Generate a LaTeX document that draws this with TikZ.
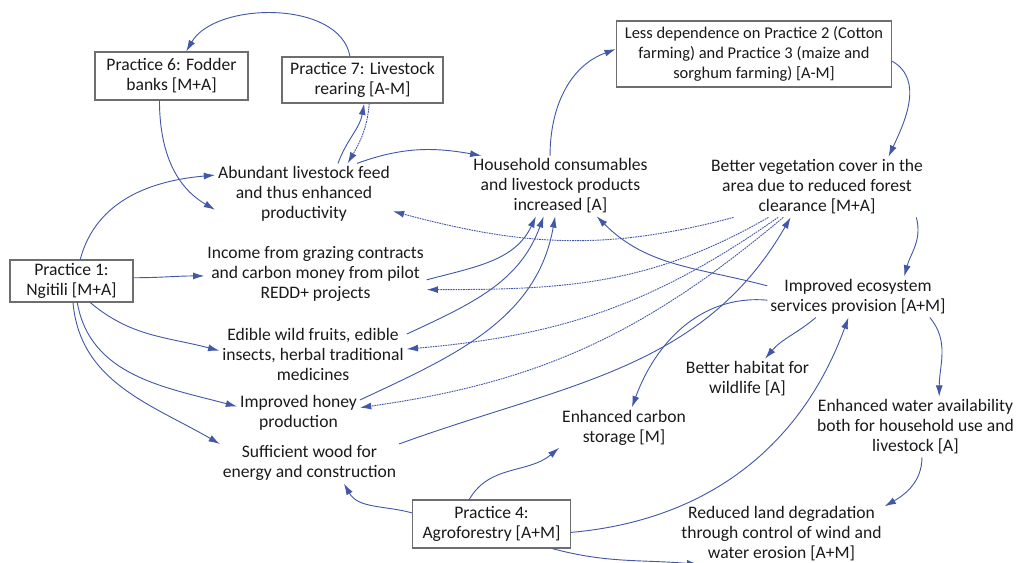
\documentclass[tikz,border=0pt]{standalone}
\usepackage{fontspec}
\setmainfont{Carlito}
\usetikzlibrary{arrows.meta}
\definecolor{linkblue}{HTML}{4257A8}
\definecolor{boxgray}{HTML}{6E6E6E}
\definecolor{textdark}{HTML}{1A1A1A}
\tikzset{
  effect/.style={align=center,inner sep=2pt,text=textdark,font=\fontsize{12.5}{14.2}\selectfont},
  practice/.style={effect,draw=boxgray,line width=0.9pt,fill=white},
  link/.style={-{Latex[length=8pt,width=5pt]},linkblue,line width=0.65pt},
  dotlink/.style={link,dash pattern=on 1.2pt off 0.6pt}
}

\begin{document}
\begin{tikzpicture}[x=0.025cm,y=0.025cm]
  \useasboundingbox (0,0) rectangle (1017,-563);
  % practices
  \node[practice,minimum width=3.83cm,minimum height=1.2cm] (p6) at (171.5,-76) {Practice 6: Fodder\\banks [M+A]};
  \node[practice,minimum width=4.03cm,minimum height=1.15cm] (p7) at (362.5,-80) {Practice 7: Livestock\\rearing [A-M]};
  \node[practice,minimum width=6.88cm,minimum height=1.65cm,font=\fontsize{11.7}{14.2}\selectfont] (lessdep) at (754,-54) {Less dependence on Practice 2 (Cotton\\farming) and Practice 3 (maize and\\sorghum farming) [A-M]};
  \node[practice,minimum width=3.08cm,minimum height=1.05cm] (p1) at (71.5,-281) {Practice 1:\\Ngitili [M+A]};
  \node[practice,minimum width=3.95cm,minimum height=1.2cm] (p4) at (491.5,-524) {Practice 4:\\Agroforestry [A+M]};
  % effects
  \node[effect] (feed) at (304,-194) {Abundant livestock feed\\and thus enhanced\\productivity};
  \node[effect] (house) at (560.5,-186) {Household consumables\\and livestock products\\increased [A]};
  \node[effect] (veg) at (817,-187) {Better vegetation cover in the\\area due to reduced forest\\clearance [M+A]};
  \node[effect] (income) at (315.5,-274) {Income from grazing contracts\\and carbon money from pilot\\REDD+ projects};
  \node[effect] (ecosys) at (858,-297) {Improved ecosystem\\services provision [A+M]};
  \node[effect] (edible) at (313,-354) {Edible wild fruits, edible\\insects, herbal traditional\\medicines};
  \node[effect] (habitat) at (747.5,-379) {Better habitat for\\wildlife [A]};
  \node[effect] (honey) at (298.5,-413) {Improved honey\\production};
  \node[effect] (water) at (915.5,-427) {Enhanced water availability\\both for household use and\\livestock [A]};
  \node[effect] (carbon) at (624,-428) {Enhanced carbon\\storage [M]};
  \node[effect] (wood) at (309.5,-463) {Sufficient wood for\\energy and construction};
  \node[effect] (land) at (781.5,-534) {Reduced land degradation\\through control of wind and\\water erosion [A+M]};
  % links
  \draw[link] (p7.118) to[out=100,in=60,looseness=0.9] (p6.59);
  \draw[link] (p6.-116) to[out=-90,in=150] (feed.190);
  \draw[link] (p1.68) to[out=75,in=185] (feed.168);
  \draw[link] (feed.42) to[out=70,in=-100] (p7.-86);
  \draw[dotlink] (p7.-74) to[out=-95,in=60] (feed.35);
  \draw[link] (feed.30) to[out=20,in=170] (house.159);
  \draw[link] (house.109) to[out=90,in=200] (lessdep.178);
  \draw[link] (lessdep.-3) to[out=-30,in=65] (veg.23);
  \draw[link] (veg.-17) to[out=-75,in=75] (ecosys.24);
  \draw[dotlink] (veg.-160) to[out=195,in=-15] (feed.-11);
  \draw[dotlink] (veg.-148) to[out=210,in=0] (income.-8);
  \draw[dotlink] (veg.-142) to[out=215,in=5] (edible.3);
  \draw[dotlink] (veg.-138) to[out=220,in=8] (honey.5);
  \draw[link] (wood.12) to[out=20,in=-120] (veg.-131);
  \draw[link] (income.-3) to[out=15,in=-115] (house.-129);
  \draw[link] (edible.12) to[out=25,in=-110] (house.-119);
  \draw[link] (honey.12) to[out=25,in=-100] (house.-100);
  \draw[link] (ecosys.173) to[out=165,in=-45] (house.-40);
  \draw[link] (ecosys.182) to[out=175,in=70] (carbon.69);
  \draw[link] (ecosys.-154) to[out=-140,in=50] (habitat.49);
  \draw[link] (ecosys.-16) to[out=-50,in=90] (water.52);
  \draw[link] (water.-78) to[out=-90,in=30] (land.15);
  \draw[link] (p4.-6) to[out=5,in=-110] (ecosys.-115);
  \draw[link] (p4.-22) to[out=-15,in=175] (land.-160);
  \draw[link] (p4.132) to[out=60,in=220] (carbon.-163);
  \draw[link] (p4.172) to[out=165,in=-60] (wood.-31);
  \draw[link] (p1.3) to[out=0,in=180] (income.181);
  \draw[link] (p1.-49) to[out=-40,in=165] (edible.178);
  \draw[link] (p1.-75) to[out=-80,in=165] (honey.174);
  \draw[link] (p1.-86) to[out=-85,in=150] (wood.168);
\end{tikzpicture}
\end{document}
